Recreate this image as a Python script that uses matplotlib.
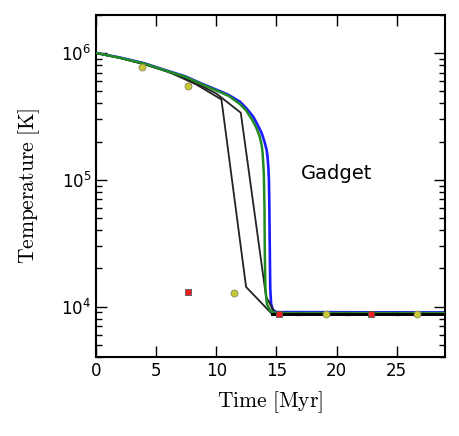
import matplotlib
matplotlib.use("Agg")
import matplotlib.pyplot as plt
import numpy as np

plt.rcParams['mathtext.fontset'] = 'cm'
plt.rcParams['font.family'] = ['DejaVu Sans']

# Blue curve
t_blue = [0, 2, 4, 6, 7.4, 8.65, 10.3, 11.0, 11.97, 12.5, 13.07, 13.4, 13.77, 14.0, 14.18, 14.26, 14.32, 14.37,
          14.40, 14.44, 14.48, 14.55, 14.7, 15.0, 29]
T_blue = [1e6, 9.2e5, 8.3e5, 7.2e5, 6.55e5, 5.8e5, 5.0e5, 4.68e5, 4.12e5, 3.66e5, 3.14e5, 2.75e5, 2.33e5, 2.0e5, 1.72e5, 1.5e5, 1.27e5, 1.0e5,
          7e4, 3e4, 1.4e4, 1.05e4, 9.4e3, 9.05e3, 9.0e3]
# Green curve
t_green = [0, 2, 4, 6, 7.4, 8.65, 10.3, 11.0, 11.9, 12.45, 12.95, 13.3, 13.6, 13.78, 13.85, 13.91, 13.95, 14.0,
           14.03, 14.08, 14.2, 14.5, 15.0, 29]
T_green = [1e6, 9.15e5, 8.25e5, 7.15e5, 6.5e5, 5.75e5, 4.92e5, 4.6e5, 4.0e5, 3.55e5, 3.0e5, 2.6e5, 2.2e5, 1.85e5, 1.6e5, 1.3e5, 1.1e5, 6e4,
           2.5e4, 1.4e4, 1.05e4, 9.2e3, 8.9e3, 8.9e3]
# Black coarse solutions
t_k1 = [0, 2.08, 4.16, 6.24, 8.32, 10.42, 12.47, 14.6, 16.68, 20.84, 25.0, 29]
T_k1 = [1e6, 9.1e5, 8.1e5, 6.95e5, 5.65e5, 4.3e5, 1.43e4, 8.8e3, 8.8e3, 8.8e3, 8.8e3, 8.8e3]
t_k2 = [0, 1.93, 3.88, 5.93, 7.98, 9.98, 12.03, 14.13, 14.9, 29]
T_k2 = [1e6, 9.15e5, 8.2e5, 7.15e5, 6.0e5, 4.8e5, 3.38e5, 1.2e4, 8.8e3, 8.8e3]
# Yellow circle samples
t_yel = [3.8, 7.62, 11.45, 19.09, 26.7]
T_yel = [7.77e5, 5.5e5, 1.29e4, 8.75e3, 8.75e3]
# Red square samples
t_red = [7.62, 15.24, 22.9]
T_red = [1.3e4, 8.8e3, 8.8e3]

fig = plt.figure(figsize=(4.6, 4.36), dpi=100)
ax = fig.add_axes([0.209, 0.181, 0.758, 0.785])

ax.plot(t_k1, T_k1, color='#222222', lw=1.3, zorder=3,
        marker='.', markersize=3, markevery=[8, 9, 10])
ax.plot(t_k2, T_k2, color='#222222', lw=1.3, zorder=3)
ax.plot(t_green, T_green, color='#228b22', lw=1.8, zorder=4)
ax.plot(t_blue, T_blue, color='#1a1aff', lw=1.9, zorder=2)
ax.plot([14.6, 29], [8.8e3, 8.8e3], color='black', lw=2.2, zorder=5)

ax.plot(t_yel, T_yel, linestyle='none', marker='o', markersize=5,
        markerfacecolor='#c8c832', markeredgecolor='#888866', markeredgewidth=0.6, zorder=6)
ax.plot(t_red, T_red, linestyle='none', marker='s', markersize=5,
        markerfacecolor='#ee2222', markeredgecolor='#555555', markeredgewidth=0.6, zorder=7)

ax.set_yscale('log')
ax.set_xlim(0, 29)
ax.set_ylim(4e3, 2e6)
ax.set_xticks([0, 5, 10, 15, 20, 25])

ax.text(17.0, 1.13e5, 'Gadget', fontsize=14, va='center', ha='left')

ax.set_xlabel(r'$\mathrm{Time\ [Myr]}$', fontsize=15.5, labelpad=7)
ax.set_ylabel(r'$\mathrm{Temperature\ [K]}$', fontsize=15.5, labelpad=14)

ax.tick_params(which='both', direction='in', top=True, right=True, labelsize=12)
ax.tick_params(which='major', length=8, width=1)
ax.tick_params(which='minor', length=4, width=1)
for s in ax.spines.values():
    s.set_linewidth(1.5)

fig.savefig('out.png', dpi=100)
